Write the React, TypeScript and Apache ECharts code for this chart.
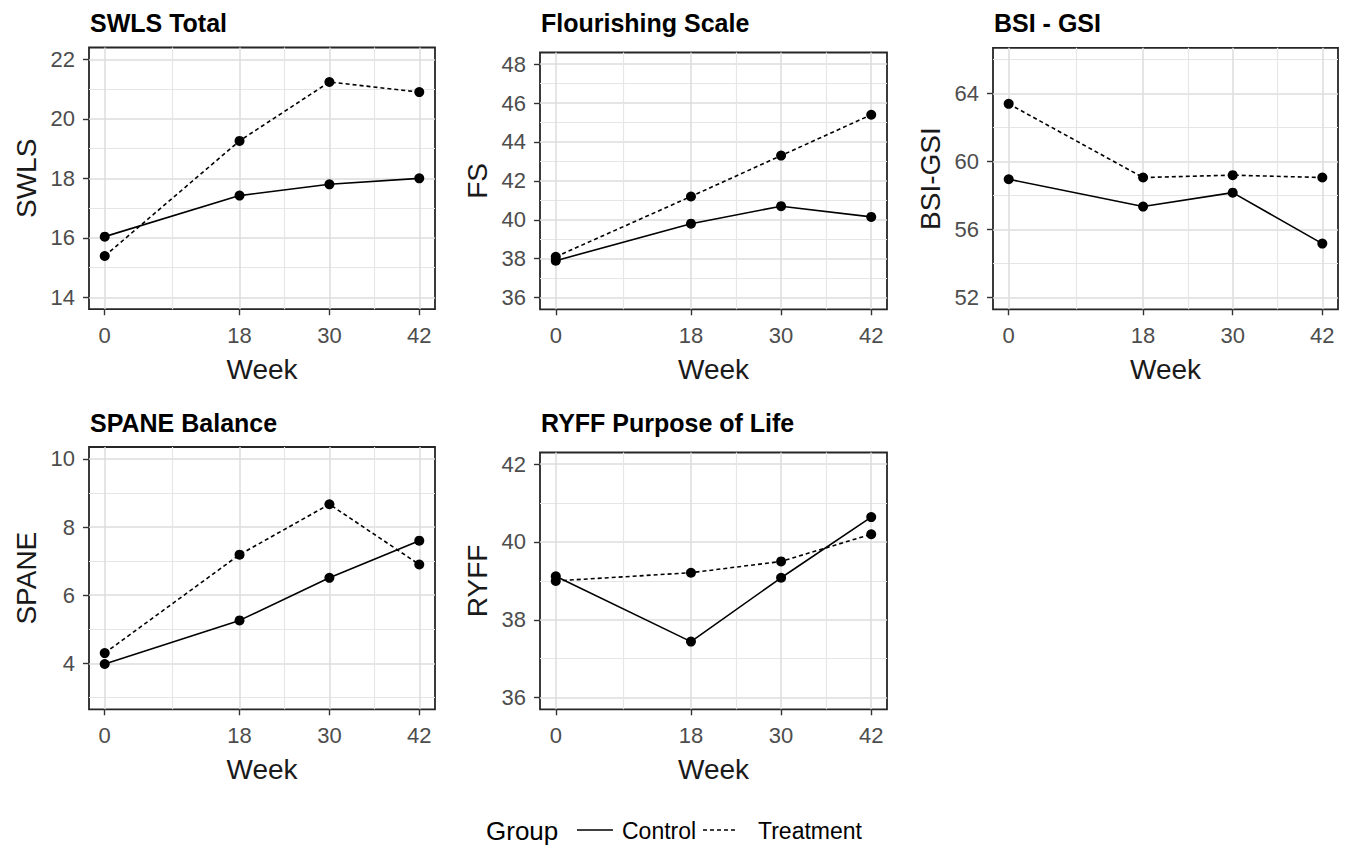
import React, { useEffect, useRef } from "react";
import * as echarts from "echarts";

const weeks = [0, 18, 30, 42];
const minorWeeks = [9, 24, 36];

const swlsControl = [16.04, 17.42, 17.8, 18.0];
const swlsTreatment = [15.39, 19.26, 21.24, 20.9];
const fsControl = [37.9, 39.8, 40.7, 40.15];
const fsTreatment = [38.1, 41.2, 43.3, 45.4];
const bsiControl = [58.96, 57.35, 58.17, 55.17];
const bsiTreatment = [63.4, 59.06, 59.2, 59.06];
const spaneControl = [3.98, 5.26, 6.51, 7.6];
const spaneTreatment = [4.3, 7.19, 8.67, 6.9];
const ryffControl = [39.12, 37.44, 39.08, 40.64];
const ryffTreatment = [39.0, 39.21, 39.5, 40.2];

const swlsTicks = [14, 16, 18, 20, 22];
const swlsMinor = [15, 17, 19, 21];
const fsTicks = [36, 38, 40, 42, 44, 46, 48];
const fsMinor = [37, 39, 41, 43, 45, 47];
const bsiTicks = [52, 56, 60, 64];
const bsiMinor = [54, 58, 62, 66];
const spaneTicks = [4, 6, 8, 10];
const spaneMinor = [3, 5, 7, 9];
const ryffTicks = [36, 38, 40, 42];
const ryffMinor = [37, 39, 41];

const titles = ["SWLS Total", "Flourishing Scale", "BSI - GSI", "SPANE Balance", "RYFF Purpose of Life"];
const yNames = ["SWLS", "FS", "BSI-GSI", "SPANE", "RYFF"];
const groupNames = ["Control", "Treatment"];

const FONT = "'Liberation Sans', Arial, sans-serif";

export default function App() {
  const ref = useRef<HTMLDivElement>(null);

  useEffect(() => {
    if (!ref.current) return;
    const chart = echarts.init(ref.current, null, { renderer: "svg" });

    const panels = [
      { grid: { left: 89, top: 47.5, width: 346, height: 261.7 }, yMin: 13.6, yMax: 22.4, ticks: swlsTicks, minor: swlsMinor, c: swlsControl, t: swlsTreatment },
      { grid: { left: 540, top: 52.5, width: 347, height: 256.8 }, yMin: 35.4, yMax: 48.6, ticks: fsTicks, minor: fsMinor, c: fsControl, t: fsTreatment },
      { grid: { left: 993, top: 47.8, width: 345, height: 261.5 }, yMin: 51.3, yMax: 66.7, ticks: bsiTicks, minor: bsiMinor, c: bsiControl, t: bsiTreatment },
      { grid: { left: 89, top: 447, width: 346, height: 262.3 }, yMin: 2.65, yMax: 10.35, ticks: spaneTicks, minor: spaneMinor, c: spaneControl, t: spaneTreatment },
      { grid: { left: 540, top: 452.5, width: 347, height: 256.8 }, yMin: 35.7, yMax: 42.3, ticks: ryffTicks, minor: ryffMinor, c: ryffControl, t: ryffTreatment },
    ];

    const majorLine = { color: "#dcdcdc", width: 1.5 };
    const minorLine = { color: "#e6e6e6", width: 1.2 };
    const tickStyle = { color: "#333333", width: 1.4 };
    const labelStyle = { fontSize: 22, color: "#4d4d4d", fontFamily: FONT };
    const nameStyle = { fontSize: 28, color: "#1a1a1a", fontFamily: FONT };

    const grids: any[] = [];
    const xAxes: any[] = [];
    const yAxes: any[] = [];
    const series: any[] = [];
    const graphics: any[] = [];

    panels.forEach((p, i) => {
      grids.push({
        ...p.grid,
        show: true,
        borderColor: "#262626",
        borderWidth: 1.8,
        backgroundColor: "#ffffff",
        containLabel: false,
      });
      xAxes.push({
        gridIndex: i,
        type: "value",
        min: -2.1,
        max: 44.1,
        position: "bottom",
        axisLine: { show: false, onZero: false },
        axisTick: { show: true, customValues: weeks, length: 6, lineStyle: tickStyle },
        axisLabel: { customValues: weeks, margin: 15, ...labelStyle },
        splitLine: { show: true, lineStyle: majorLine },
        name: "Week",
        nameLocation: "middle",
        nameGap: 46,
        nameTextStyle: nameStyle,
      });
      xAxes.push({
        gridIndex: i,
        type: "value",
        min: -2.1,
        max: 44.1,
        position: "top",
        axisLine: { show: false, onZero: false },
        axisTick: { show: false, customValues: minorWeeks },
        axisLabel: { show: false, customValues: minorWeeks },
        splitLine: { show: true, lineStyle: minorLine },
      });
      yAxes.push({
        gridIndex: i,
        type: "value",
        min: p.yMin,
        max: p.yMax,
        position: "left",
        axisLine: { show: false, onZero: false },
        axisTick: { show: true, customValues: p.ticks, length: 6, lineStyle: tickStyle },
        axisLabel: { customValues: p.ticks, margin: 14, ...labelStyle },
        splitLine: { show: true, lineStyle: majorLine },
        name: yNames[i],
        nameLocation: "middle",
        nameGap: 49,
        nameTextStyle: nameStyle,
      });
      yAxes.push({
        gridIndex: i,
        type: "value",
        min: p.yMin,
        max: p.yMax,
        position: "right",
        axisLine: { show: false, onZero: false },
        axisTick: { show: false, customValues: p.minor },
        axisLabel: { show: false, customValues: p.minor },
        splitLine: { show: true, lineStyle: minorLine },
      });
      const groups = [p.c, p.t];
      groups.forEach((vals, g) => {
        series.push({
          type: "line",
          name: groupNames[g],
          xAxisIndex: 2 * i,
          yAxisIndex: 2 * i,
          data: weeks.map((w, k) => [w, vals[k]]),
          symbol: "circle",
          symbolSize: 10,
          showSymbol: true,
          itemStyle: { color: "#000000" },
          lineStyle: { color: "#000000", width: 1.6, type: g === 0 ? "solid" : [4, 3] },
          z: 3,
        });
      });
      graphics.push({
        type: "text",
        left: p.grid.left + 1,
        top: i < 3 ? 10 : 410,
        style: { text: titles[i], fontSize: 25, fontWeight: "bold", fill: "#000000", fontFamily: FONT },
      });
    });

    // legend
    const ly = 831;
    graphics.push(
      { type: "text", x: 486, y: ly, style: { text: "Group", fontSize: 26, fill: "#000000", fontFamily: FONT, textVerticalAlign: "middle" } },
      { type: "line", shape: { x1: 577, y1: ly - 1, x2: 613, y2: ly - 1 }, style: { stroke: "#000000", lineWidth: 1.6 } },
      { type: "text", x: 622, y: ly, style: { text: groupNames[0], fontSize: 23, fill: "#000000", fontFamily: FONT, textVerticalAlign: "middle" } },
      { type: "line", shape: { x1: 703, y1: ly - 1, x2: 738, y2: ly - 1 }, style: { stroke: "#000000", lineWidth: 1.6, lineDash: [4, 3] } },
      { type: "text", x: 758, y: ly, style: { text: groupNames[1], fontSize: 23, fill: "#000000", fontFamily: FONT, textVerticalAlign: "middle" } }
    );

    chart.setOption({
      animation: false,
      backgroundColor: "#ffffff",
      grid: grids,
      xAxis: xAxes,
      yAxis: yAxes,
      series,
      graphic: graphics,
    });

    return () => chart.dispose();
  }, []);

  return <div ref={ref} style={{ position: "absolute", left: 0, top: 0, width: 1352, height: 851 }} />;
}
